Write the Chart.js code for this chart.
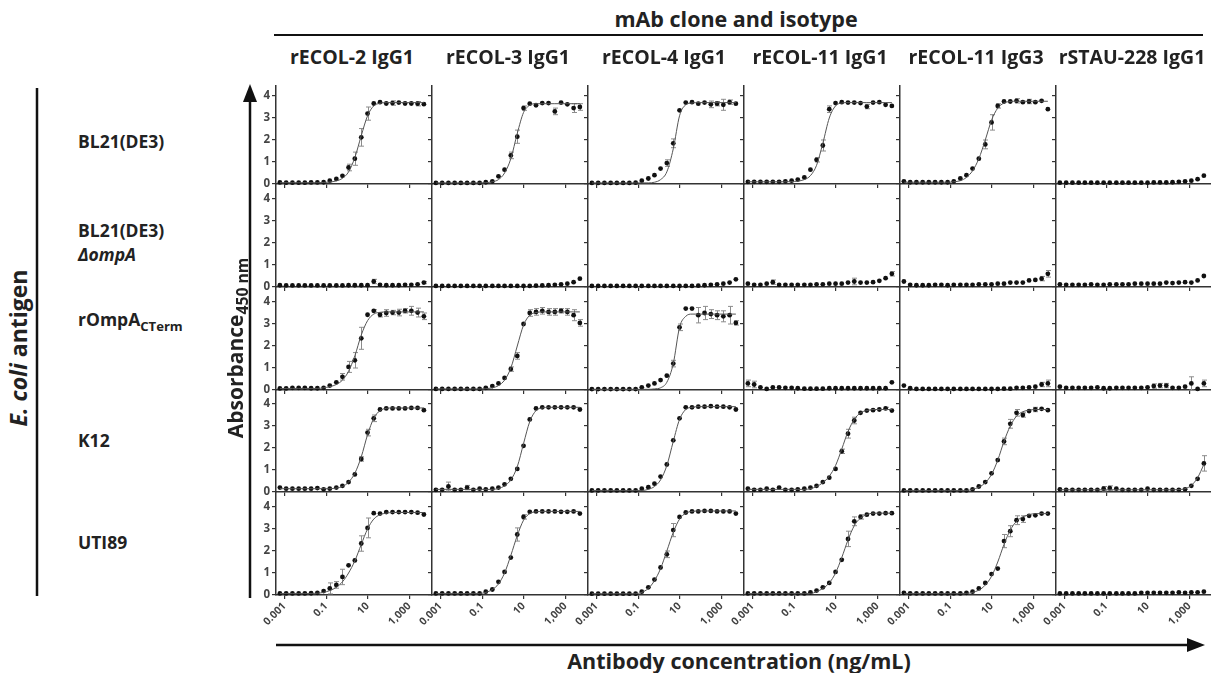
<!DOCTYPE html>
<html>
<head>
<meta charset="utf-8">
<script src="https://cdn.jsdelivr.net/npm/chart.js@4.4.1/dist/chart.umd.min.js"></script>
<style>
body { margin: 0; background: #fff; font-family: "Open Sans", sans-serif; color: #222; }
#page { position: relative; width: 1211px; height: 673px; overflow: hidden; }
#page canvas { position: absolute; }
.lbl { position: absolute; font-weight: 700; white-space: nowrap; line-height: 1; }
.rot { transform: translate(-50%, -50%) rotate(-90deg); }
sub { font-size: 0.75em; vertical-align: -0.35em; }
</style>
</head>
<body>
<div id="page"></div>
<script>
// 2-fold dilution series, ng/mL (low -> high)
const conc = [0.0006, 0.0012, 0.0024, 0.0048, 0.0095, 0.019, 0.038, 0.076, 0.15, 0.31, 0.61, 1.2,
              2.4, 4.9, 9.8, 19.5, 39, 78, 156, 313, 625, 1250, 2500, 5000];

const clones = ['rECOL-2 IgG1', 'rECOL-3 IgG1', 'rECOL-4 IgG1', 'rECOL-11 IgG1', 'rECOL-11 IgG3', 'rSTAU-228 IgG1'];
const antigens = ['BL21(DE3)', 'BL21(DE3)<br><i>ΔompA</i>', 'rOmpA<sub>CTerm</sub>', 'K12', 'UTI89'];

const xTickValues = [0.001, 0.1, 10, 1000];
const xTickLabels = ['0.001', '0.1', '10', '1,000'];
const yTickValues = [0, 1, 2, 3, 4];

// row 1: BL21(DE3)
const r1c1 = [0.07,0.06,0.06,0.06,0.06,0.07,0.07,0.08,0.15,0.23,0.37,0.75,1.15,2.12,3.2,3.66,3.72,3.66,3.68,3.7,3.66,3.66,3.65,3.63];
const r1c1Fit = [0.06,0.06,0.06,0.06,0.06,0.06,0.06,0.07,0.09,0.14,0.26,0.55,1.2,2.2,3.1,3.55,3.67,3.7,3.7,3.7,3.7,3.7,3.7,3.7];
const r1c1Err = [0,0,0,0,0,0,0,0,0,0,0,0.15,0.3,0.4,0.3,0,0,0,0.1,0,0,0,0.1,0];
const r1c2 = [0.05,0.05,0.05,0.05,0.05,0.05,0.05,0.05,0.08,0.12,0.35,0.65,1.3,2.15,3.45,3.65,3.58,3.68,3.68,3.3,3.7,3.62,3.45,3.5];
const r1c2Fit = [0.05,0.05,0.05,0.05,0.05,0.05,0.05,0.05,0.06,0.1,0.2,0.5,1.15,2.3,3.25,3.58,3.65,3.65,3.65,3.65,3.65,3.65,3.65,3.65];
const r1c2Err = [0,0,0,0,0,0,0,0,0,0,0,0,0.15,0.3,0.1,0,0,0,0,0.15,0,0,0.2,0.15];
const r1c3 = [0.05,0.05,0.05,0.05,0.05,0.05,0.05,0.06,0.15,0.25,0.4,0.7,0.95,1.85,3.35,3.7,3.72,3.65,3.7,3.62,3.65,3.6,3.72,3.65];
const r1c3Fit = [0.05,0.05,0.05,0.05,0.05,0.05,0.05,0.05,0.05,0.05,0.08,0.2,0.55,1.6,3.1,3.6,3.68,3.7,3.7,3.7,3.7,3.7,3.7,3.7];
const r1c3Err = [0,0,0,0,0,0,0,0,0,0,0,0,0.15,0.2,0,0,0,0,0,0.15,0.1,0.25,0.1,0];
const r1c4 = [0.1,0.1,0.1,0.1,0.1,0.1,0.12,0.15,0.2,0.3,0.65,1.1,1.75,3.4,3.68,3.72,3.7,3.7,3.68,3.52,3.7,3.72,3.6,3.55];
const r1c4Fit = [0.1,0.1,0.1,0.1,0.1,0.1,0.1,0.11,0.13,0.2,0.38,0.85,1.85,3.0,3.55,3.68,3.7,3.7,3.7,3.7,3.7,3.7,3.7,3.7];
const r1c4Err = [0,0,0,0,0,0,0,0,0,0,0,0.1,0.25,0.15,0,0,0,0,0,0.1,0,0,0,0];
const r1c5 = [0.12,0.08,0.08,0.08,0.08,0.08,0.08,0.08,0.12,0.25,0.4,0.7,1.15,1.8,2.8,3.55,3.75,3.75,3.78,3.72,3.75,3.72,3.78,3.4];
const r1c5Fit = [0.08,0.08,0.08,0.08,0.08,0.08,0.08,0.08,0.1,0.15,0.3,0.6,1.15,2.0,2.9,3.45,3.68,3.75,3.76,3.76,3.76,3.76,3.76,3.76];
const r1c5Err = [0,0,0,0,0,0,0,0,0,0,0,0,0,0.2,0.35,0.1,0,0,0.1,0,0.1,0,0,0];
const r1c6 = [0.06,0.06,0.06,0.06,0.06,0.06,0.06,0.06,0.06,0.06,0.06,0.06,0.06,0.06,0.06,0.07,0.07,0.07,0.08,0.1,0.12,0.15,0.22,0.38];

// row 2: BL21(DE3) ΔompA
const r2c1 = [0.08,0.07,0.07,0.07,0.07,0.07,0.07,0.07,0.07,0.07,0.07,0.08,0.08,0.08,0.08,0.25,0.1,0.08,0.08,0.08,0.1,0.1,0.12,0.2];
const r2c1Err = [0,0,0,0,0,0,0,0,0,0,0,0,0,0,0,0.1,0,0,0,0,0,0,0,0.05];
const r2c2 = [0.05,0.05,0.05,0.05,0.05,0.05,0.05,0.05,0.05,0.05,0.05,0.05,0.05,0.05,0.05,0.05,0.06,0.07,0.08,0.1,0.12,0.15,0.22,0.38];
const r2c3 = [0.05,0.05,0.05,0.05,0.05,0.05,0.05,0.05,0.05,0.05,0.05,0.05,0.05,0.05,0.05,0.05,0.05,0.06,0.08,0.1,0.12,0.15,0.2,0.35];
const r2c4 = [0.15,0.1,0.1,0.15,0.22,0.1,0.1,0.1,0.1,0.1,0.1,0.12,0.12,0.15,0.15,0.15,0.2,0.25,0.2,0.2,0.22,0.28,0.4,0.6];
const r2c4Err = [0,0,0,0,0.1,0,0,0,0,0,0,0,0,0,0,0,0,0.15,0,0,0,0,0,0.1];
const r2c5 = [0.25,0.1,0.08,0.08,0.08,0.1,0.1,0.08,0.1,0.1,0.1,0.1,0.12,0.12,0.12,0.15,0.15,0.2,0.2,0.2,0.3,0.32,0.38,0.6];
const r2c5Err = [0,0,0,0,0,0,0,0,0,0,0,0,0,0,0,0,0,0,0,0,0,0,0.1,0.15];
const r2c6 = [0.12,0.1,0.1,0.1,0.1,0.12,0.1,0.1,0.12,0.12,0.12,0.12,0.15,0.15,0.15,0.15,0.15,0.2,0.18,0.2,0.22,0.2,0.3,0.5];

// row 3: rOmpA CTerm
const r3c1 = [0.07,0.07,0.1,0.1,0.1,0.08,0.08,0.1,0.2,0.35,0.6,1.05,1.35,2.35,3.42,3.6,3.42,3.5,3.52,3.52,3.6,3.6,3.52,3.35];
const r3c1Fit = [0.07,0.07,0.07,0.07,0.07,0.07,0.07,0.1,0.15,0.25,0.45,0.85,1.55,2.5,3.15,3.45,3.53,3.55,3.55,3.55,3.55,3.55,3.55,3.55];
const r3c1Err = [0,0,0,0,0,0,0,0,0,0,0.15,0.25,0.35,0.5,0,0.05,0.1,0.15,0.1,0.15,0.1,0.2,0.2,0.15];
const r3c2 = [0.05,0.05,0.05,0.05,0.05,0.05,0.05,0.05,0.1,0.18,0.3,0.55,0.95,1.55,3.0,3.5,3.55,3.6,3.55,3.55,3.6,3.55,3.4,3.05];
const r3c2Fit = [0.05,0.05,0.05,0.05,0.05,0.05,0.05,0.05,0.06,0.1,0.2,0.45,1.0,2.0,2.95,3.4,3.52,3.55,3.55,3.55,3.55,3.55,3.55,3.55];
const r3c2Err = [0,0,0,0,0,0,0,0,0,0,0,0,0.1,0.15,0,0.15,0.15,0.15,0.15,0.15,0.1,0.15,0.25,0.15];
const r3c3 = [0.04,0.04,0.04,0.04,0.04,0.04,0.04,0.04,0.12,0.2,0.3,0.45,0.65,1.2,2.85,3.7,3.7,3.4,3.5,3.45,3.4,3.35,3.4,3.05];
const r3c3Fit = [0.03,0.03,0.03,0.03,0.03,0.03,0.03,0.03,0.03,0.03,0.05,0.1,0.35,1.2,2.85,3.35,3.45,3.45,3.45,3.45,3.45,3.45,3.45,3.45];
const r3c3Err = [0,0,0,0,0,0,0,0,0,0,0,0,0,0.15,0.15,0,0,0.35,0.3,0.2,0.2,0.25,0.4,0.1];
const r3c4 = [0.3,0.25,0.12,0.05,0.12,0.12,0.1,0.1,0.08,0.06,0.06,0.06,0.06,0.08,0.08,0.08,0.08,0.08,0.08,0.08,0.08,0.08,0.08,0.35];
const r3c4Err = [0.15,0.15,0,0,0,0,0,0,0,0,0,0,0,0,0,0,0,0,0,0,0,0,0,0];
const r3c5 = [0.2,0.08,0.05,0.05,0.05,0.05,0.05,0.05,0.05,0.05,0.05,0.05,0.05,0.05,0.05,0.05,0.06,0.06,0.1,0.1,0.12,0.15,0.25,0.3];
const r3c5Err = [0,0,0,0,0,0,0,0,0,0,0,0,0,0,0,0,0,0,0,0,0,0,0.1,0.15];
const r3c6 = [0.15,0.1,0.1,0.1,0.1,0.1,0.12,0.08,0.08,0.1,0.1,0.1,0.1,0.1,0.12,0.18,0.2,0.2,0.1,0.1,0.15,0.3,0.05,0.3];
const r3c6Err = [0,0,0,0,0,0,0,0,0,0,0,0,0,0,0,0.1,0.1,0.1,0,0,0,0.3,0,0.15];

// row 4: K12
const r4c1 = [0.2,0.15,0.15,0.15,0.15,0.15,0.18,0.12,0.15,0.2,0.28,0.45,0.8,1.5,2.7,3.35,3.75,3.8,3.8,3.8,3.8,3.82,3.82,3.72];
const r4c1Fit = [0.15,0.15,0.15,0.15,0.15,0.15,0.15,0.15,0.15,0.18,0.25,0.45,0.85,1.6,2.6,3.35,3.7,3.8,3.82,3.82,3.82,3.82,3.82,3.82];
const r4c1Err = [0,0,0,0,0,0,0,0,0,0,0,0,0,0.1,0.15,0.15,0,0,0,0,0,0,0,0];
const r4c2 = [0.1,0.1,0.25,0.1,0.1,0.2,0.1,0.15,0.12,0.15,0.2,0.35,0.6,1.05,2.1,3.3,3.8,3.85,3.85,3.85,3.85,3.85,3.85,3.75];
const r4c2Fit = [0.12,0.12,0.12,0.12,0.12,0.12,0.12,0.12,0.12,0.12,0.16,0.28,0.55,1.15,2.2,3.2,3.7,3.82,3.85,3.85,3.85,3.85,3.85,3.85];
const r4c2Err = [0,0,0.2,0,0,0.1,0,0,0,0,0,0,0,0,0,0,0,0,0,0,0,0,0,0];
const r4c3 = [0.07,0.07,0.07,0.07,0.07,0.07,0.07,0.07,0.15,0.22,0.38,0.7,1.25,2.35,3.35,3.85,3.85,3.88,3.88,3.9,3.88,3.88,3.85,3.75];
const r4c3Fit = [0.07,0.07,0.07,0.07,0.07,0.07,0.07,0.07,0.07,0.12,0.25,0.55,1.2,2.3,3.3,3.75,3.85,3.88,3.88,3.88,3.88,3.88,3.88,3.88];
const r4c4 = [0.15,0.1,0.1,0.15,0.1,0.2,0.1,0.1,0.12,0.15,0.2,0.28,0.45,0.65,1.05,1.85,2.65,3.25,3.6,3.7,3.72,3.75,3.8,3.7];
const r4c4Fit = [0.12,0.12,0.12,0.12,0.12,0.12,0.12,0.12,0.12,0.12,0.15,0.25,0.42,0.72,1.2,1.95,2.75,3.3,3.6,3.7,3.75,3.75,3.75,3.75];
const r4c4Err = [0,0,0,0,0,0,0,0,0,0,0,0,0,0,0,0.1,0.2,0.15,0,0,0,0,0.05,0];
const r4c5 = [0.07,0.07,0.07,0.07,0.07,0.07,0.07,0.07,0.07,0.07,0.07,0.12,0.25,0.45,0.85,1.45,2.3,3.1,3.6,3.5,3.68,3.75,3.78,3.72];
const r4c5Fit = [0.07,0.07,0.07,0.07,0.07,0.07,0.07,0.07,0.07,0.07,0.07,0.12,0.22,0.42,0.8,1.45,2.3,3.0,3.45,3.65,3.72,3.75,3.75,3.75];
const r4c5Err = [0,0,0,0,0,0,0,0,0,0,0,0,0,0,0,0,0.15,0.2,0.15,0.1,0,0.1,0,0];
const r4c6 = [0.12,0.1,0.1,0.1,0.1,0.1,0.1,0.15,0.18,0.15,0.1,0.1,0.1,0.1,0.15,0.1,0.1,0.1,0.1,0.1,0.12,0.28,0.6,1.3];
const r4c6Fit = [0.1,0.1,0.1,0.1,0.1,0.1,0.1,0.1,0.1,0.1,0.1,0.1,0.1,0.1,0.1,0.1,0.1,0.1,0.1,0.11,0.15,0.3,0.65,1.25];
const r4c6Err = [0,0,0,0,0,0,0,0.1,0.1,0,0,0,0,0,0,0,0,0,0,0,0,0,0,0.35];

// row 5: UTI89
const r5c1 = [0.07,0.07,0.07,0.07,0.07,0.08,0.1,0.18,0.3,0.46,0.82,1.35,1.57,2.34,3.05,3.72,3.7,3.77,3.77,3.77,3.77,3.77,3.74,3.66];
const r5c1Fit = [0.07,0.07,0.07,0.07,0.07,0.07,0.08,0.12,0.2,0.35,0.6,1.0,1.55,2.3,3.0,3.45,3.65,3.72,3.75,3.75,3.75,3.75,3.75,3.75];
const r5c1Err = [0,0,0,0,0,0,0,0,0.25,0.15,0.35,0,0,0.35,0.45,0,0,0,0,0,0,0,0,0];
const r5c2 = [0.07,0.07,0.07,0.07,0.07,0.07,0.07,0.07,0.15,0.25,0.6,1.05,1.7,2.75,3.55,3.78,3.8,3.8,3.8,3.8,3.78,3.78,3.8,3.7];
const r5c2Fit = [0.07,0.07,0.07,0.07,0.07,0.07,0.07,0.07,0.12,0.25,0.5,1.0,1.8,2.7,3.4,3.7,3.78,3.8,3.8,3.8,3.8,3.8,3.8,3.8];
const r5c2Err = [0,0,0,0,0,0,0,0,0,0,0,0,0,0.3,0.1,0,0,0,0,0,0,0,0,0];
const r5c3 = [0.06,0.06,0.06,0.06,0.06,0.06,0.06,0.06,0.15,0.35,0.7,1.25,1.85,2.95,3.55,3.75,3.8,3.8,3.82,3.82,3.8,3.8,3.8,3.7];
const r5c3Fit = [0.06,0.06,0.06,0.06,0.06,0.06,0.06,0.06,0.12,0.3,0.65,1.2,2.0,2.85,3.45,3.72,3.8,3.82,3.82,3.82,3.82,3.82,3.82,3.82];
const r5c3Err = [0,0,0,0,0,0,0,0,0,0,0,0,0.15,0.3,0,0,0,0,0,0,0,0,0,0];
const r5c4 = [0.07,0.07,0.07,0.07,0.07,0.07,0.07,0.07,0.07,0.07,0.12,0.2,0.35,0.55,1.05,1.6,2.55,3.35,3.55,3.65,3.7,3.7,3.72,3.72];
const r5c4Fit = [0.07,0.07,0.07,0.07,0.07,0.07,0.07,0.07,0.07,0.07,0.07,0.15,0.3,0.55,1.0,1.7,2.5,3.15,3.5,3.65,3.72,3.72,3.72,3.72];
const r5c4Err = [0,0,0,0,0,0,0,0,0,0,0,0,0,0,0,0,0.35,0.2,0.1,0,0,0,0,0];
const r5c5 = [0.1,0.07,0.07,0.07,0.07,0.07,0.07,0.07,0.07,0.07,0.1,0.15,0.3,0.55,0.95,1.2,2.45,2.9,3.4,3.45,3.6,3.62,3.7,3.7];
const r5c5Fit = [0.07,0.07,0.07,0.07,0.07,0.07,0.07,0.07,0.07,0.07,0.07,0.12,0.22,0.45,0.85,1.5,2.3,2.95,3.35,3.55,3.65,3.7,3.7,3.7];
const r5c5Err = [0,0,0,0,0,0,0,0,0,0,0,0,0,0,0,0,0.3,0.25,0.2,0.15,0,0,0,0];
const r5c6 = [0.07,0.07,0.07,0.07,0.07,0.07,0.07,0.07,0.07,0.07,0.07,0.07,0.07,0.1,0.1,0.1,0.1,0.1,0.1,0.12,0.1,0.12,0.12,0.15];

// grid of [points, fit, errors] per antigen row / antibody column
const grid = [
  [[r1c1, r1c1Fit, r1c1Err], [r1c2, r1c2Fit, r1c2Err], [r1c3, r1c3Fit, r1c3Err], [r1c4, r1c4Fit, r1c4Err], [r1c5, r1c5Fit, r1c5Err], [r1c6, null, null]],
  [[r2c1, null, r2c1Err], [r2c2, null, null], [r2c3, null, null], [r2c4, null, r2c4Err], [r2c5, null, r2c5Err], [r2c6, null, null]],
  [[r3c1, r3c1Fit, r3c1Err], [r3c2, r3c2Fit, r3c2Err], [r3c3, r3c3Fit, r3c3Err], [r3c4, null, r3c4Err], [r3c5, null, r3c5Err], [r3c6, null, r3c6Err]],
  [[r4c1, r4c1Fit, r4c1Err], [r4c2, r4c2Fit, r4c2Err], [r4c3, r4c3Fit, null], [r4c4, r4c4Fit, r4c4Err], [r4c5, r4c5Fit, r4c5Err], [r4c6, r4c6Fit, r4c6Err]],
  [[r5c1, r5c1Fit, r5c1Err], [r5c2, r5c2Fit, r5c2Err], [r5c3, r5c3Fit, r5c3Err], [r5c4, r5c4Fit, r5c4Err], [r5c5, r5c5Fit, r5c5Err], [r5c6, null, null]]
];

// layout
const page = document.getElementById('page');
const PANEL_W = 156;
const colLeft = c => 276 + PANEL_W * c;
const rowTop = [86, 184, 287, 390, 492];
const rowBottom = [184, 287, 390, 492, 595];
const PX_PER_UNIT = 22;
const LEFT = 40, BOTTOM = 50, PADT = 14, PADR = 6;
const axisColor = '#333';

const errorBars = {
  id: 'errorBars',
  beforeDatasetsDraw(chart) {
    const ds = chart.data.datasets.find(d => d.errors);
    if (!ds) return;
    const { ctx } = chart;
    const x = chart.scales.x, y = chart.scales.y;
    ctx.save();
    ctx.strokeStyle = '#8c8c8c';
    ctx.lineWidth = 1;
    ds.data.forEach((p, i) => {
      const e = ds.errors[i];
      if (!e) return;
      const px = Math.round(x.getPixelForValue(p.x)) + 0.5;
      const top = y.getPixelForValue(p.y + e);
      const bot = y.getPixelForValue(Math.max(p.y - e, 0));
      ctx.beginPath();
      ctx.moveTo(px, top); ctx.lineTo(px, bot);
      ctx.moveTo(px - 2.5, top); ctx.lineTo(px + 2.5, top);
      ctx.moveTo(px - 2.5, bot); ctx.lineTo(px + 2.5, bot);
      ctx.stroke();
    });
    ctx.restore();
  }
};

function makePanel(r, c) {
  const [pts, fit, err] = grid[r][c];
  const h = rowBottom[r] - rowTop[r];
  const canvas = document.createElement('canvas');
  canvas.width = LEFT + PANEL_W + PADR;
  canvas.height = PADT + h + BOTTOM;
  canvas.style.left = (colLeft(c) - LEFT) + 'px';
  canvas.style.top = (rowTop[r] - PADT) + 'px';
  page.appendChild(canvas);

  const datasets = [];
  if (fit) {
    datasets.push({
      data: conc.map((v, i) => ({ x: v, y: fit[i] })),
      borderColor: '#555', borderWidth: 1, pointRadius: 0,
      cubicInterpolationMode: 'monotone', clip: false
    });
  }
  datasets.push({
    data: conc.map((v, i) => ({ x: v, y: pts[i] })),
    showLine: false, pointRadius: 2.4, pointBorderWidth: 0,
    pointBackgroundColor: '#111', borderColor: '#111',
    errors: err, clip: false
  });

  new Chart(canvas, {
    type: 'line',
    data: { datasets },
    options: {
      responsive: false, animation: false, events: [],
      layout: { padding: { top: PADT, right: PADR, left: 0, bottom: 0 }, autoPadding: false },
      plugins: { legend: { display: false }, tooltip: { enabled: false } },
      scales: {
        x: {
          type: 'logarithmic', min: 0.00039, max: 12300,
          afterBuildTicks: s => { s.ticks = xTickValues.map(v => ({ value: v })); },
          afterFit: s => { s.height = BOTTOM; },
          grid: { drawOnChartArea: false, drawTicks: true, tickLength: 4, color: axisColor, lineWidth: 1.2 },
          border: { color: axisColor, width: 1.5 },
          ticks: {
            display: r === 4, autoSkip: false, minRotation: 45, maxRotation: 45, padding: 1,
            color: '#444', font: { family: 'Open Sans', weight: 'bold', size: 10.5 },
            callback: (v, i) => xTickLabels[i]
          }
        },
        y: {
          min: 0, max: h / PX_PER_UNIT,
          afterBuildTicks: s => { s.ticks = yTickValues.map(v => ({ value: v })); },
          afterFit: s => { s.width = LEFT; },
          grid: { drawOnChartArea: false, drawTicks: true, tickLength: 4, color: axisColor, lineWidth: 1.2 },
          border: { color: axisColor, width: 1.5 },
          ticks: {
            display: c === 0, padding: 2,
            color: '#444', font: { family: 'Open Sans', weight: 'bold', size: 11.5 }
          }
        }
      }
    },
    plugins: [errorBars]
  });
}

for (let r = 0; r < 5; r++) for (let c = 0; c < 6; c++) makePanel(r, c);

// text labels
function label(html, x, y, size, extra) {
  const d = document.createElement('div');
  d.className = 'lbl' + (extra ? ' ' + extra : '');
  d.innerHTML = html;
  d.style.left = x + 'px';
  d.style.top = y + 'px';
  d.style.fontSize = size + 'px';
  page.appendChild(d);
  return d;
}

const t = label('mAb clone and isotype', 736, 19, 21.5);
t.style.transform = 'translate(-50%, -50%)';
clones.forEach((name, c) => {
  const d = label(name, colLeft(c) + PANEL_W / 2 - 2, 57, 19.5);
  d.style.transform = 'translate(-50%, -50%)';
});
const rowCenters = [142, 243, 322, 441, 543];
antigens.forEach((name, r) => {
  const d = label(name, 78, rowCenters[r], 17.5);
  d.style.transform = 'translateY(-50%)';
  d.style.lineHeight = '1.35';
});
label('<i>E. coli</i> antigen', 18, 348, 23, 'rot');
label('Absorbance<sub>450 nm</sub>', 238, 348, 21, 'rot');
const xt = label('Antibody concentration (ng/mL)', 739, 661, 21.5);
xt.style.transform = 'translate(-50%, -50%)';

// arrows and rules
const svgNS = 'http://www.w3.org/2000/svg';
const svg = document.createElementNS(svgNS, 'svg');
svg.setAttribute('width', 1211); svg.setAttribute('height', 673);
svg.style.position = 'absolute'; svg.style.left = '0'; svg.style.top = '0';
svg.innerHTML =
  '<line x1="274" y1="35" x2="1203" y2="35" stroke="#111" stroke-width="2"/>' +
  '<line x1="37" y1="88" x2="37" y2="596" stroke="#111" stroke-width="2.5"/>' +
  '<line x1="250" y1="98" x2="250" y2="598" stroke="#111" stroke-width="2.5"/>' +
  '<polygon points="250,84 243,102 257,102" fill="#111"/>' +
  '<line x1="276" y1="645" x2="1190" y2="645" stroke="#111" stroke-width="2.5"/>' +
  '<polygon points="1205,645 1187,638 1187,652" fill="#111"/>';
page.appendChild(svg);
</script>
</body>
</html>
